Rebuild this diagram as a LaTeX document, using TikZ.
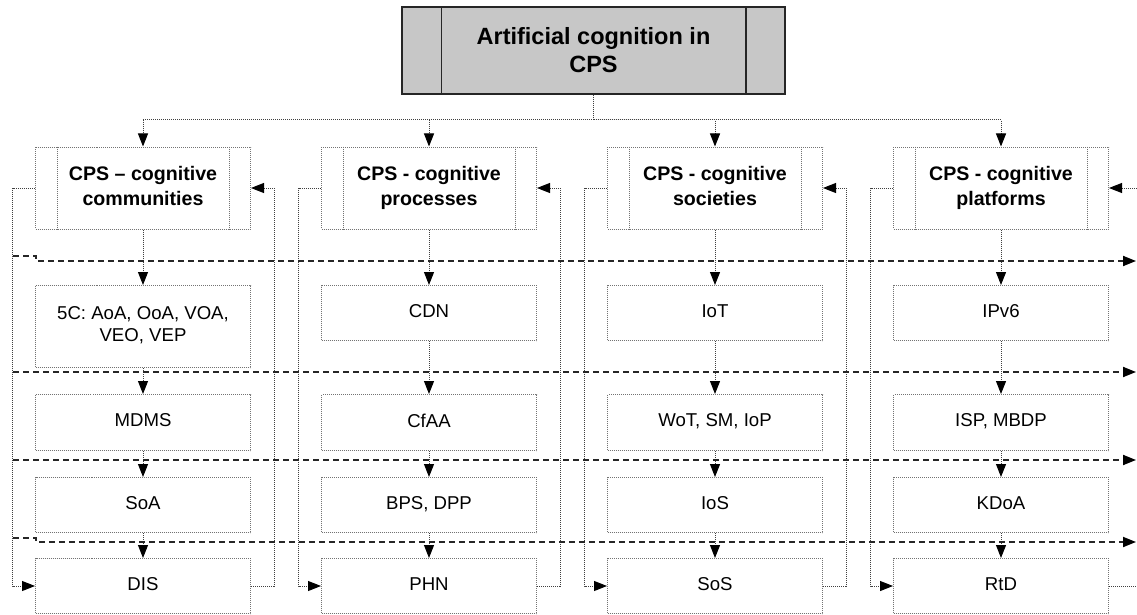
\documentclass[tikz,border=0pt]{standalone}
\usepackage{fontspec}
\setmainfont{Liberation Sans}
\usetikzlibrary{arrows.meta,positioning}

\begin{document}
\begin{tikzpicture}[x=1pt, y=-1pt, >={Triangle[length=13pt,width=10pt,black]}]
\tikzstyle{every node} = [rectangle, inner sep=0pt, align=center]
\tikzstyle{dots} = [black!75, line width=1pt, densely dotted]
\tikzstyle{box} = [draw=black!55, line width=1pt, densely dotted, minimum width=215pt, minimum height=55pt, text depth=4pt, font=\fontsize{18.6}{22}\selectfont]
\tikzstyle{head} = [box, minimum height=82pt, text depth=5pt, font=\fontsize{19.6}{25}\selectfont\bfseries]
\tikzstyle{link} = [dots, ->]
\tikzstyle{level} = [black!85, line width=1.8pt, dash pattern=on 6pt off 4pt, ->]
\useasboundingbox (0,0) rectangle (1137,615);
\clip (0,0) rectangle (1137,615);

\node (top) [draw=black!85, line width=1.5pt, fill=black!22, minimum width=383pt, minimum height=87pt, font=\fontsize{23.5}{28}\selectfont\bfseries] at (593.5,50.5) {Artificial cognition in\\CPS};
\draw[black!85, line width=1.5pt] ([xshift=40pt]top.north west) -- ([xshift=40pt]top.south west)
  ([xshift=-40pt]top.north east) -- ([xshift=-40pt]top.south east);

\node (h1) [head] at (143,188) {CPS – cognitive\\communities};
\node (h2) [head] at (429,188) {CPS - cognitive\\processes};
\node (h3) [head] at (715,188) {CPS - cognitive\\societies};
\node (h4) [head] at (1001,188) {CPS - cognitive\\platforms};
\foreach \n in {h1,h2,h3,h4}
\draw[black!55, line width=1pt, densely dotted] ([xshift=22pt]\n.north west) -- ([xshift=22pt]\n.south west)
  ([xshift=-22pt]\n.north east) -- ([xshift=-22pt]\n.south east);

\node (a1) [box, anchor=north, minimum height=82pt] at (143,285) {5C: AoA, OoA, VOA,\\VEO, VEP};
\node (a2) [box, anchor=north] at (429,285) {CDN};
\node (a3) [box, anchor=north] at (715,285) {IoT};
\node (a4) [box, anchor=north] at (1001,285) {IPv6};
\node (b1) [box, anchor=north, minimum height=56pt] at (143,394) {MDMS};
\node (b2) [box, anchor=north, minimum height=56pt] at (429,394) {CfAA};
\node (b3) [box, anchor=north, minimum height=56pt] at (715,394) {WoT, SM, IoP};
\node (b4) [box, anchor=north, minimum height=56pt] at (1001,394) {ISP, MBDP};
\node (c1) [box, anchor=north] at (143,477) {SoA};
\node (c2) [box, anchor=north] at (429,477) {BPS, DPP};
\node (c3) [box, anchor=north] at (715,477) {IoS};
\node (c4) [box, anchor=north] at (1001,477) {KDoA};
\node (d1) [box, anchor=north] at (143,558) {DIS};
\node (d2) [box, anchor=north] at (429,558) {PHN};
\node (d3) [box, anchor=north] at (715,558) {SoS};
\node (d4) [box, anchor=north] at (1001,558) {RtD};

\coordinate (bus) at (593.5,120);
\draw[dots] (top) -- (bus);
\foreach \n in {h1,h2,h3,h4}
\draw[link] (bus) -| (\n);

\foreach \i in {1,2,3,4} {
\draw[link] (h\i) -- (a\i);
\draw[link] (a\i) -- (b\i);
\draw[link] (b\i) -- (c\i);
\draw[link] (c\i) -- (d\i);
}

\foreach \i/\r in {1/23,2/23,3/23,4/40} {
\draw[link] (h\i.west) -- ++(-22.5,0) |- (d\i.west);
\draw[link] (d\i.east) -- ++(\r,0) |- (h\i.east);
}

\foreach \i/\ya/\yb in {1/256/261, 2/372/372, 3/460/460, 4/538/542} {
\coordinate (s\i) at (13,\ya);
\coordinate (e\i) at (1136,\yb);
\draw[level] (s\i) -| (36,\yb) -- (e\i);
}
\end{tikzpicture}
\end{document}
